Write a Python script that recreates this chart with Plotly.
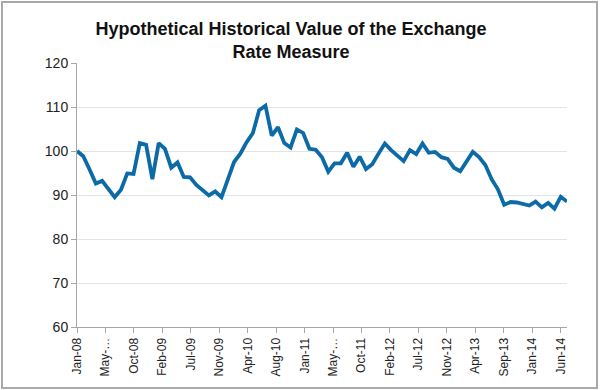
import numpy as np
import plotly.graph_objects as go

# Monthly values, Jan-08 .. Jul-14
values = [100.0, 98.8, 95.8, 92.6, 93.2, 91.3, 89.5, 91.2, 94.9, 94.8,
          101.8, 101.4, 93.6, 101.8, 100.5, 96.2, 97.4, 94.1, 94.0, 92.3,
          91.2, 89.9, 90.8, 89.5, 93.5, 97.5, 99.4, 102.0, 104.1, 109.3,
          110.3, 103.5, 105.4, 101.8, 100.8, 104.9, 104.1, 100.5, 100.3, 98.6,
          95.3, 97.2, 97.2, 99.6, 96.4, 98.7, 95.9, 97.0, 99.4, 101.7,
          100.2, 98.8, 97.7, 100.2, 99.3, 101.7, 99.6, 99.8, 98.6, 98.2,
          96.2, 95.4, 97.6, 99.8, 98.6, 96.8, 93.6, 91.3, 87.8, 88.4,
          88.3, 88.0, 87.6, 88.5, 87.2, 88.2, 86.9, 89.6, 88.5]

tick_labels = ["Jan-08", "May-…", "Oct-08", "Feb-09", "Jul-09", "Nov-09",
               "Apr-10", "Aug-10", "Jan-11", "May-…", "Oct-11", "Feb-12",
               "Jul-12", "Nov-12", "Apr-13", "Sep-13", "Jan-14", "Jun-14"]

y_ticks = [60, 70, 80, 90, 100, 110, 120]

title_text = "Hypothetical Historical Value of the Exchange<br>Rate Measure"

x = list(range(len(values)))
last_tick = 77
tickvals = list(np.linspace(0, last_tick, len(tick_labels)))

FONT = "Arial, Liberation Sans, sans-serif"
W, H = 600, 390
ML, MR, MT, MB = 77, 33, 63, 63
PW, PH = W - ML - MR, H - MT - MB

def px_x(p):
    return (p - ML) / PW

def px_y(p):
    return (H - MB - p) / PH

fig = go.Figure()
fig.add_trace(go.Scatter(
    x=x, y=values, mode="lines",
    line=dict(color="#0c6aa6", width=3.8),
    hoverinfo="skip", showlegend=False,
))

fig.update_layout(
    width=W, height=H,
    margin=dict(l=ML, r=MR, t=MT, b=MB, pad=0),
    paper_bgcolor="white", plot_bgcolor="white",
    font=dict(family=FONT, color="#222222"),
    title=dict(text=title_text, x=0.485, xref="container", xanchor="center",
               y=0.911, yref="container", yanchor="top",
               font=dict(family=FONT, size=18, color="#111111", weight="bold")),
    xaxis=dict(range=[0, len(values) - 1], tickmode="array",
               tickvals=tickvals, ticktext=tick_labels, tickangle=-90,
               showgrid=False, zeroline=False, showline=True,
               linecolor="#a6a6a6", linewidth=1,
               ticks="outside", ticklen=5, tickcolor="#a6a6a6",
               tickfont=dict(family=FONT, size=12, color="#222222")),
    yaxis=dict(range=[60, 120], tickmode="array", tickvals=y_ticks,
               showgrid=True, gridcolor="#e3e3e3", gridwidth=1,
               zeroline=False, showline=True, linecolor="#a6a6a6", linewidth=1,
               ticks="outside", ticklen=5, tickcolor="#a6a6a6",
               tickfont=dict(family=FONT, size=14, color="#222222")),
    shapes=[dict(type="rect", xref="paper", yref="paper",
                 x0=px_x(2), x1=px_x(597), y0=px_y(388), y1=px_y(2),
                 line=dict(color="#a9a9a9", width=2), fillcolor="rgba(0,0,0,0)",
                 layer="below")],
)

fig.write_html("out.html", config={"displayModeBar": False},
               post_script="document.body.style.margin='0';document.body.style.padding='0';")
